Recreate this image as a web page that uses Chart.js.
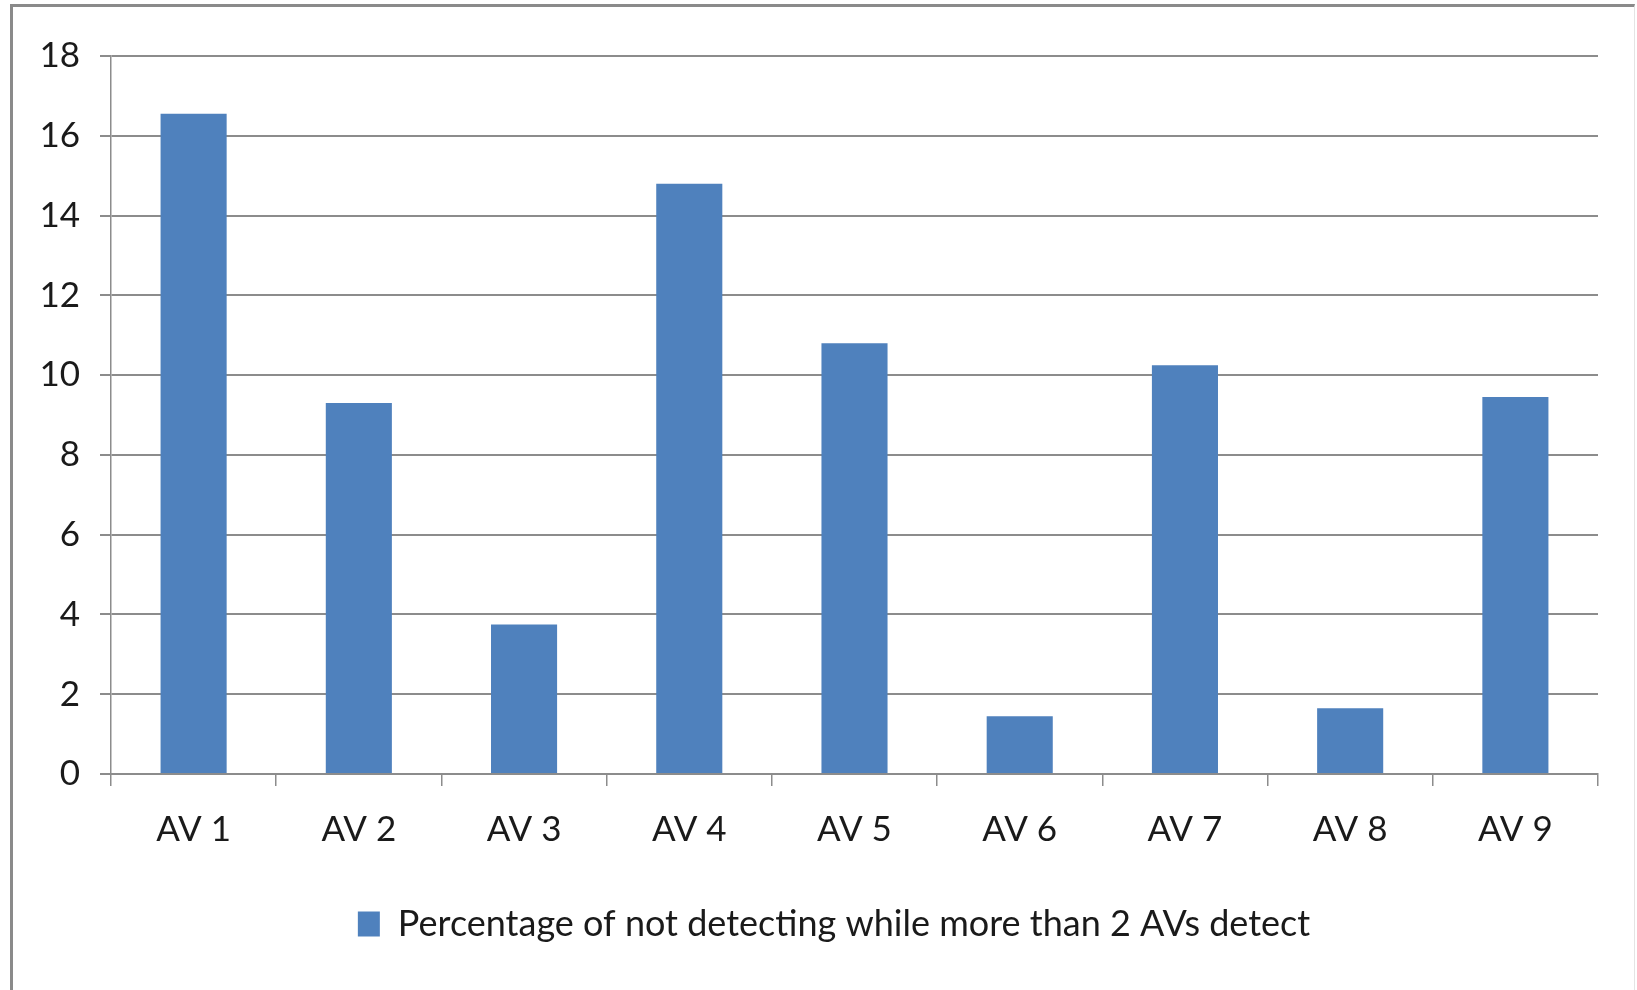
<!DOCTYPE html>
<html>
<head>
<meta charset="utf-8">
<title>AV chart</title>
<script src="https://cdn.jsdelivr.net/npm/chart.js@4.4.1/dist/chart.umd.min.js"></script>
<style>
  body { margin: 0; background: #fff; }
  #wrap { position: relative; width: 1637px; height: 990px; overflow: hidden; }
  #frame {
    position: absolute; left: 10px; top: 4px; width: 1621px; height: 1000px;
    border-left: 3px solid #8a8a8a; border-top: 3px solid #8a8a8a; border-right: 1px solid #e4e4e4;
    pointer-events: none;
  }
  canvas { position: absolute; left: 0; top: 0; }
</style>
</head>
<body>
<div id="wrap">
  <canvas id="myChart" width="1637" height="990"></canvas>
  <div id="frame"></div>
</div>
<script>
const categories = ['AV 1', 'AV 2', 'AV 3', 'AV 4', 'AV 5', 'AV 6', 'AV 7', 'AV 8', 'AV 9'];
const percentValues = [16.55, 9.3, 3.75, 14.8, 10.8, 1.45, 10.25, 1.65, 9.45];
const yTicks = [0, 2, 4, 6, 8, 10, 12, 14, 16, 18];
const seriesLabel = 'Percentage of not detecting while more than 2 AVs detect';

const ctx = document.getElementById('myChart').getContext('2d');

// legend sits a bit right of centre in the original
const legendShift = {
    id: 'legendShift',
    afterLayout: function (chart) {
        chart.legend.left += 35;
        chart.legend.right += 35;
    }
};

const myChart = new Chart(ctx, {
    type: 'bar',
    data: {
        labels: categories,
        datasets: [{
            label: seriesLabel,
            data: percentValues,
            backgroundColor: '#4f81bd',
            borderWidth: 0,
            barPercentage: 0.4,
            categoryPercentage: 1.0
        }]
    },
    options: {
        responsive: false,
        animation: false,
        layout: {
            padding: { left: 0, right: 39, top: 56, bottom: 38 }
        },
        font: { family: 'Lato', size: 35 },
        plugins: {
            tooltip: { enabled: false },
            legend: {
                position: 'bottom',
                labels: {
                    color: '#1a1a1a',
                    font: { family: 'Lato', size: 36 },
                    boxWidth: 22,
                    boxHeight: 25,
                    padding: 20
                }
            }
        },
        scales: {
            x: {
                grid: {
                    drawOnChartArea: false,
                    drawTicks: true,
                    tickLength: 12,
                    color: '#8c8c8c',
                    lineWidth: 1.5
                },
                border: { color: '#8c8c8c', width: 2 },
                ticks: {
                    color: '#1a1a1a',
                    font: { family: 'Lato', size: 35 },
                    padding: 23,
                    maxRotation: 0
                },
                afterFit: function (scale) { scale.height = 112; }
            },
            y: {
                min: 0,
                max: 18,
                afterBuildTicks: function (scale) {
                    scale.ticks = yTicks.map(function (v) { return { value: v }; });
                },
                grid: {
                    color: '#8c8c8c',
                    lineWidth: 2,
                    tickLength: 11
                },
                border: { color: '#8c8c8c', width: 1.5 },
                ticks: {
                    color: '#1a1a1a',
                    font: { family: 'Lato', size: 35 },
                    padding: 20
                },
                afterFit: function (scale) { scale.width = 111; }
            }
        }
    },
    plugins: [legendShift]
});
</script>
</body>
</html>
